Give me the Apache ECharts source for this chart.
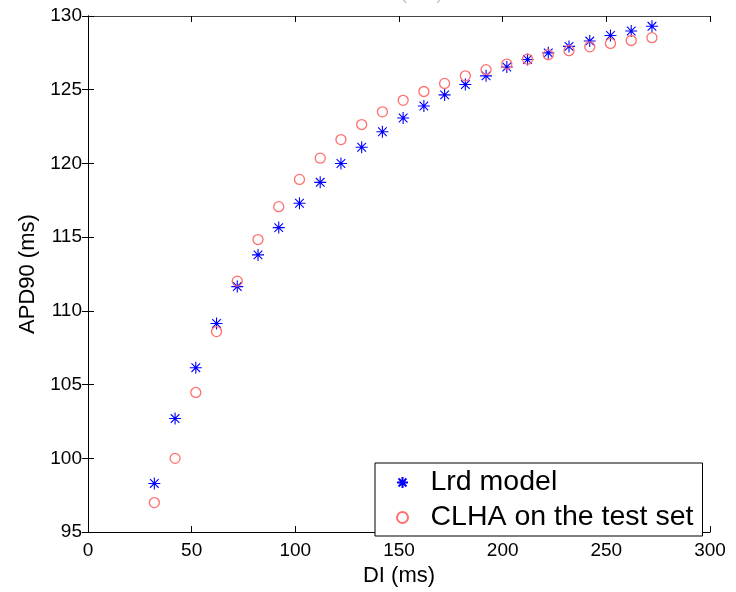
<!DOCTYPE html>
<html>
<head>
<meta charset="utf-8">
<script src="https://cdn.jsdelivr.net/npm/echarts@6/dist/echarts.min.js"></script>
<style>
  html, body { margin: 0; padding: 0; background: #fff; }
  #chart { width: 736px; height: 592px; }
</style>
</head>
<body>
<div id="chart"></div>
<script>
// DI values (ms)
var di = [32, 42, 52, 62, 72, 82, 92, 102, 112, 122, 132, 142, 152, 162, 172, 182, 192, 202, 212, 222, 232, 242, 252, 262, 272];
// APD90 - Lrd model
var lrd = [98.3, 102.7, 106.15, 109.15, 111.65, 113.8, 115.65, 117.3, 118.72, 120.0, 121.1, 122.15, 123.08, 123.9, 124.65, 125.35, 125.94, 126.54, 127.05, 127.5, 127.94, 128.3, 128.68, 128.98, 129.3];
// APD90 - CLHA on the test set
var clha = [97.0, 100.0, 104.47, 108.6, 112.02, 114.84, 117.07, 118.92, 120.36, 121.62, 122.64, 123.5, 124.28, 124.88, 125.43, 125.94, 126.36, 126.74, 127.07, 127.38, 127.65, 127.91, 128.14, 128.34, 128.53];

var xTicks = { min: 0, max: 300, step: 50 };
var yTicks = { min: 95, max: 130, step: 5 };

function pairs(xs, ys) {
  return xs.map(function (x, i) { return [x, ys[i]]; });
}

var starPath = 'path://M0,-1L0,1M-1,0L1,0M-0.72,-0.72L0.72,0.72M-0.72,0.72L0.72,-0.72';
var font = 'Liberation Sans, Arial, sans-serif';

var chart = echarts.init(document.getElementById('chart'));
var axisLine = { lineStyle: { color: '#000', width: 1 } };
var tick = { inside: true, length: 6, lineStyle: { color: '#000', width: 1 } };

var option = {
  animation: false,
  backgroundColor: '#fff',
  textStyle: { fontFamily: font },
  graphic: [{
    type: 'text', left: 352, top: -19,
    style: { text: 'time (ms)', fontSize: 22, fontFamily: font, fill: '#c8c8c8' }
  }],
  grid: { left: 88, right: 26, top: 16, bottom: 49 },
  legend: {
    orient: 'vertical',
    left: 375,
    top: 463,
    padding: [2, 5, 1, 21],
    itemGap: 0,
    itemWidth: 46,
    itemHeight: 11,
    backgroundColor: '#fff',
    borderColor: '#000',
    borderWidth: 1,
    borderRadius: 0,
    textStyle: { fontSize: 28.5, fontFamily: font, color: '#000', lineHeight: 35, width: 267 },
    data: ['Lrd model', 'CLHA on the test set']
  },
  xAxis: [{
    type: 'value', min: xTicks.min, max: xTicks.max, interval: xTicks.step,
    name: 'DI (ms)', nameLocation: 'middle', nameGap: 29,
    nameTextStyle: { fontSize: 22, color: '#000', fontFamily: font },
    axisLine: axisLine, axisTick: tick, splitLine: { show: false },
    axisLabel: { fontSize: 19, color: '#000', margin: 9, fontFamily: font }
  }, {
    type: 'value', position: 'top', min: xTicks.min, max: xTicks.max, interval: xTicks.step,
    axisLine: { lineStyle: { color: '#444', width: 1 } }, axisTick: tick,
    axisLabel: { show: false }, splitLine: { show: false }
  }],
  yAxis: [{
    type: 'value', min: yTicks.min, max: yTicks.max, interval: yTicks.step,
    name: 'APD90 (ms)', nameLocation: 'middle', nameGap: 43,
    nameTextStyle: { fontSize: 22, color: '#000', fontFamily: font },
    axisLine: axisLine, axisTick: tick, splitLine: { show: false },
    axisLabel: { fontSize: 19, color: '#000', margin: 6, fontFamily: font }
  }, {
    type: 'value', position: 'right', min: yTicks.min, max: yTicks.max, interval: yTicks.step,
    axisLine: axisLine, axisTick: tick,
    axisLabel: { show: false }, splitLine: { show: false }
  }],
  series: [{
    name: 'Lrd model',
    type: 'scatter',
    symbol: starPath,
    symbolSize: 12,
    itemStyle: { color: '#0000ff', borderColor: '#0000ff', borderWidth: 1.1, opacity: 1 },
    data: pairs(di, lrd)
  }, {
    name: 'CLHA on the test set',
    type: 'scatter',
    symbol: 'circle',
    symbolSize: 10,
    itemStyle: { color: 'rgba(0,0,0,0)', borderColor: '#ff6f6f', borderWidth: 1.3, opacity: 1 },
    data: pairs(di, clha)
  }]
};
chart.setOption(option);
</script>
</body>
</html>
